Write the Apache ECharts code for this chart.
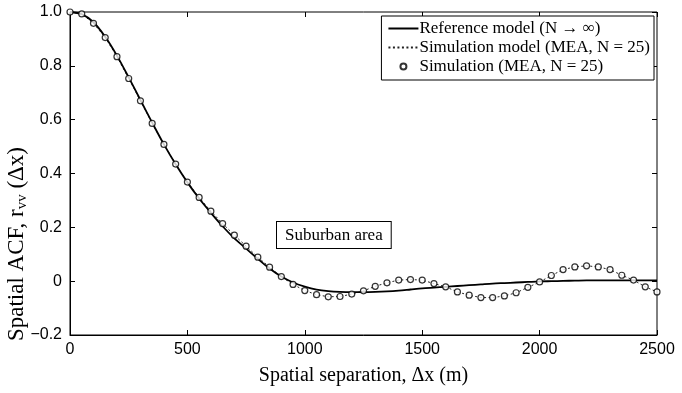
<!DOCTYPE html>
<html>
<head>
<meta charset="utf-8">
<script src="https://cdn.jsdelivr.net/npm/echarts@6/dist/echarts.min.js"></script>
<style>
  html, body { margin: 0; padding: 0; background: #fff; }
  #chart { width: 682px; height: 393px; }
</style>
</head>
<body>
<div id="chart"></div>
<script>
// spatial separation (m)
const separation = [0, 50, 100, 150, 200, 250, 300, 350, 400, 450, 500, 550, 600, 650, 700, 750, 800, 850, 900, 950,
  1000, 1050, 1100, 1150, 1200, 1250, 1300, 1350, 1400, 1450, 1500, 1550, 1600, 1650, 1700, 1750, 1800, 1850, 1900, 1950,
  2000, 2050, 2100, 2150, 2200, 2250, 2300, 2350, 2400, 2450, 2500];

// reference model (N -> inf)
const referenceAcf = [1.0, 0.992, 0.962, 0.908, 0.838, 0.757, 0.673, 0.589, 0.508, 0.434, 0.367, 0.307, 0.254, 0.204, 0.159, 0.121, 0.083, 0.047, 0.017, -0.005,
  -0.020, -0.031, -0.037, -0.040, -0.041, -0.041, -0.040, -0.038, -0.035, -0.031, -0.027, -0.024, -0.021, -0.018, -0.015, -0.012, -0.009, -0.007, -0.005, -0.003,
  -0.001, 0.0, 0.001, 0.002, 0.003, 0.003, 0.003, 0.003, 0.003, 0.003, 0.003];

// simulation model / simulation (MEA, N = 25)
const simulationAcf = [1.0, 0.993, 0.958, 0.905, 0.834, 0.753, 0.670, 0.586, 0.508, 0.435, 0.368, 0.311, 0.260, 0.214, 0.171, 0.130, 0.089, 0.052, 0.017, -0.012,
  -0.035, -0.050, -0.058, -0.057, -0.048, -0.036, -0.019, -0.006, 0.004, 0.006, 0.004, -0.009, -0.021, -0.040, -0.052, -0.061, -0.061, -0.055, -0.043, -0.023,
  -0.003, 0.021, 0.043, 0.053, 0.057, 0.053, 0.043, 0.022, 0.004, -0.021, -0.040];

const seriesNames = ['Reference model (N \u2192 \u221e)', 'Simulation model (MEA, N = 25)', 'Simulation (MEA, N = 25)'];

const pairs = (ys) => separation.map((x, i) => [x, ys[i]]);

const serif = '"Liberation Serif", "Times New Roman", serif';
const sans = '"Liberation Sans", Arial, sans-serif';

const fmtY = (v) => (Math.abs(v) < 1e-9 ? '0' : v.toFixed(1).replace('-', '\u2212'));

const baseX = { type: 'value', min: 0, max: 2500, interval: 500 };
const baseY = { type: 'value', min: -0.2, max: 1.0, interval: 0.2 };
const tickIn = { show: true, inside: true, length: 5, lineStyle: { color: '#000', width: 1 } };

const chart = echarts.init(document.getElementById('chart'), null, { renderer: 'canvas' });

chart.setOption({
  animation: false,
  backgroundColor: '#fff',
  grid: {
    left: 70, right: 25, top: 12, bottom: 58,
    show: true, borderColor: '#000', borderWidth: 1, backgroundColor: 'transparent'
  },
  legend: {
    data: [
      { name: seriesNames[0], itemStyle: { opacity: 0 } },
      { name: seriesNames[1], itemStyle: { opacity: 0 } },
      { name: seriesNames[2] }
    ],
    orient: 'vertical',
    right: 28,
    top: 16,
    itemWidth: 30,
    itemHeight: 6,
    itemGap: 2,
    padding: [4, 4, 5, 6],
    backgroundColor: '#fff',
    borderColor: '#000',
    borderWidth: 1,
    textStyle: { fontFamily: serif, fontSize: 17, color: '#000', lineHeight: 17, padding: [0, 0, 0, -4] }
  },
  xAxis: [
    {
      ...baseX,
      position: 'bottom',
      name: 'Spatial separation, \u0394x (m)',
      nameLocation: 'middle',
      nameGap: 31,
      nameTextStyle: { fontFamily: serif, fontSize: 20, color: '#000' },
      axisLine: { show: true, onZero: false, lineStyle: { color: '#000', width: 1 } },
      axisTick: tickIn,
      axisLabel: { fontFamily: sans, fontSize: 16, color: '#000', margin: 7, formatter: (v) => String(v) },
      splitLine: { show: false }
    },
    {
      ...baseX,
      position: 'top',
      axisLine: { show: false, onZero: false },
      axisTick: tickIn,
      axisLabel: { show: false },
      splitLine: { show: false }
    }
  ],
  yAxis: [
    {
      ...baseY,
      position: 'left',
      axisLine: { show: true, onZero: false, lineStyle: { color: '#000', width: 1 } },
      axisTick: tickIn,
      axisLabel: { fontFamily: sans, fontSize: 16, color: '#000', margin: 8, formatter: fmtY },
      splitLine: { show: false }
    },
    {
      ...baseY,
      position: 'right',
      axisLine: { show: false, onZero: false },
      axisTick: tickIn,
      axisLabel: { show: false },
      splitLine: { show: false }
    }
  ],
  series: [
    {
      name: seriesNames[0],
      type: 'line',
      data: pairs(referenceAcf),
      smooth: 0.3,
      symbol: 'none',
      lineStyle: { color: '#000', width: 1.8 },
      itemStyle: { color: '#000' },
      z: 3
    },
    {
      name: seriesNames[1],
      type: 'line',
      data: pairs(simulationAcf),
      symbol: 'none',
      lineStyle: { color: '#222', width: 1, type: [2, 2.5] },
      itemStyle: { color: '#000' },
      z: 2
    },
    {
      name: seriesNames[2],
      type: 'scatter',
      data: pairs(simulationAcf),
      symbol: 'circle',
      symbolSize: 6,
      itemStyle: { color: '#fff', borderColor: '#000', borderWidth: 1.2 },
      z: 4
    }
  ],
  graphic: [
    {
      // y-axis title (rotated, with subscript)
      type: 'text',
      x: 17,
      y: 244,
      rotation: Math.PI / 2,
      style: {
        text: 'Spatial ACF, r{sub|vv} (\u0394x)',
        font: '23px ' + serif,
        fill: '#000',
        align: 'center',
        verticalAlign: 'middle',
        rich: {
          sub: { font: '15px ' + serif, fill: '#000', padding: [10, 0, 0, 0] }
        }
      }
    },
    {
      type: 'text',
      left: 276,
      top: 221,
      style: {
        text: 'Suburban area',
        font: '17px ' + serif,
        fill: '#000',
        backgroundColor: '#fff',
        borderColor: '#000',
        borderWidth: 1,
        padding: [5, 8, 4, 8]
      },
      z: 10
    }
  ]
});
</script>
</body>
</html>
